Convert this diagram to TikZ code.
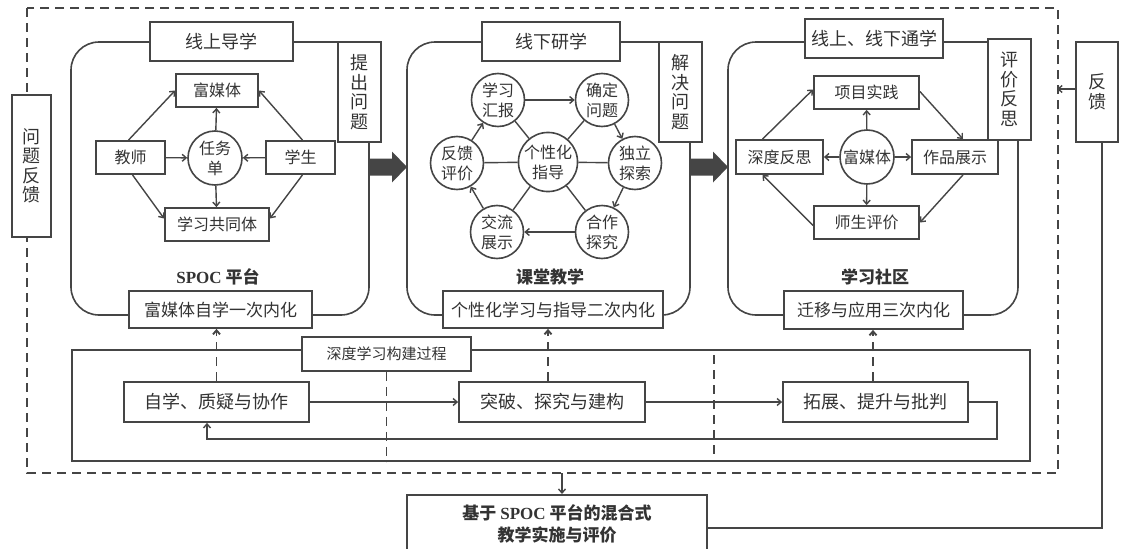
\documentclass[tikz,border=0pt]{standalone}
\usepackage{fontspec}
\setmainfont{Noto Sans CJK SC}
\newfontfamily\lserif{Liberation Serif}
\usetikzlibrary{arrows.meta}
\definecolor{ln}{HTML}{454545}
\definecolor{tx}{HTML}{333333}
\begin{document}
\begin{tikzpicture}[x=1pt,y=-1pt,line join=miter,
  bx/.style={draw=ln,line width=1.8pt,fill=white,inner sep=0pt,text=tx,font=\fontsize{16}{18}\selectfont},
  tbox/.style={bx,font=\fontsize{18}{20}\selectfont},
  vbox/.style={bx,align=center,font=\fontsize{18}{19.5}\selectfont},
  cir/.style={circle,draw=ln,line width=1.6pt,fill=white,inner sep=0pt,minimum size=53pt,text=tx,align=center,font=\fontsize{16}{20}\selectfont},
  panel/.style={draw=ln,line width=1.6pt,rounded corners=28pt,inner sep=0pt},
  arr/.style={draw=ln,line width=1.4pt,-{Straight Barb[length=4pt,width=7pt]}},
  lnk/.style={draw=ln,line width=1.4pt},
  dsh/.style={draw=ln,line width=1.9pt,dash pattern=on 9pt off 6pt},
  lbl/.style={text=tx,font=\fontsize{17}{19}\selectfont\bfseries}]
\clip (0,0) rectangle (1125,549);
\fill[white] (0,0) rectangle (1125,549);

% outer dashed frame
\draw[dsh] (27,8) rectangle (1058,473);
\node[vbox,minimum width=39pt,minimum height=142pt] (wt) at (31.5,166) {问\\题\\反\\馈};
\node[vbox,minimum width=42pt,minimum height=100pt] (fk) at (1097,92) {反\\馈};

% ---------- panel 1 ----------
\node[panel,minimum width=298pt,minimum height=273pt] (p1) at (220,178.5) {};
\node[tbox,minimum width=143pt,minimum height=39pt] (t1) at (221.5,41.5) {线上导学};
\node[vbox,minimum width=43pt,minimum height=100pt] (q1) at (359.5,92) {提\\出\\问\\题};
\node[tbox,font=\fontsize{17}{19}\selectfont,minimum width=183pt,minimum height=37pt] (b1) at (220.5,309.5) {富媒体自学一次内化};
\node[lbl] (l1) at (218,277) {{\lserif\bfseries SPOC} 平台};
\node[bx,minimum width=82pt,minimum height=33pt] (fmt) at (217,90.5) {富媒体};
\node[bx,minimum width=69pt,minimum height=33pt] (js) at (130.5,157.5) {教师};
\node[bx,minimum width=69pt,minimum height=33pt] (xs) at (300.5,157.5) {学生};
\node[cir,minimum size=54pt] (rw) at (215,158) {任务\\单};
\node[bx,minimum width=104pt,minimum height=33pt] (gtt) at (217,224.5) {学习共同体};
\draw[arr] (js) -- (rw);
\draw[arr] (xs) -- (rw);
\draw[arr] (rw) -- (fmt);
\draw[arr] (rw) -- (gtt);
\draw[arr] ([xshift=-2pt]js.north) -- (fmt.west);
\draw[arr] ([xshift=2pt]xs.north) -- (fmt.east);
\draw[arr] ([xshift=2pt]js.south) -- ([yshift=6pt]gtt.west);
\draw[arr] ([xshift=2pt]xs.south) -- ([yshift=6pt]gtt.east);

% ---------- panel 2 ----------
\node[panel,minimum width=283pt,minimum height=273pt] (p2) at (548.5,178.5) {};
\node[tbox,minimum width=138pt,minimum height=39pt] (t2) at (551,41.5) {线下研学};
\node[vbox,minimum width=43pt,minimum height=100pt] (q2) at (680.5,92) {解\\决\\问\\题};
\node[tbox,font=\fontsize{17}{19}\selectfont,minimum width=220pt,minimum height=37pt] (b2) at (553,309.5) {个性化学习与指导二次内化};
\node[lbl] (l2) at (550,277) {课堂教学};
\node[cir,minimum size=54pt] (c0) at (548,162) {个性化\\指导};
\node[cir] (c1) at (498,100) {学习\\汇报};
\node[cir] (c2) at (602,100) {确定\\问题};
\node[cir] (c3) at (635,163) {独立\\探索};
\node[cir] (c4) at (602,232) {合作\\探究};
\node[cir] (c5) at (497,232) {交流\\展示};
\node[cir] (c6) at (457,163) {反馈\\评价};
\foreach \c in {c1,c2,c3,c4,c5,c6} \draw[lnk] (c0) -- (\c);
\draw[arr] (c1) -- (c2);
\draw[arr] (c2) -- (c3);
\draw[arr] (c3) -- (c4);
\draw[arr] (c4) -- (c5);
\draw[arr] (c5) -- (c6);
\draw[arr] (c6) -- (c1);

% ---------- panel 3 ----------
\node[panel,minimum width=290pt,minimum height=273pt] (p3) at (873,178.5) {};
\node[tbox,minimum width=138pt,minimum height=39pt] (t3) at (874,38.5) {线上、线下通学};
\node[vbox,minimum width=43pt,minimum height=101pt] (q3) at (1009.5,89.5) {评\\价\\反\\思};
\node[tbox,font=\fontsize{17}{19}\selectfont,minimum width=179pt,minimum height=38pt] (b3) at (873.5,310) {迁移与应用三次内化};
\node[lbl] (l3) at (875,277) {学习社区};
\node[bx,minimum width=105pt,minimum height=33pt] (xmsj) at (866.5,92.5) {项目实践};
\node[bx,minimum width=87pt,minimum height=34pt] (sdfs) at (779.5,157) {深度反思};
\node[bx,minimum width=86pt,minimum height=34pt] (zpzs) at (955,157) {作品展示};
\node[bx,minimum width=105pt,minimum height=33pt] (sspj) at (866.5,222.5) {师生评价};
\node[cir,minimum size=54pt] (fm3) at (867,157) {富媒体};
\draw[arr] (fm3) -- (xmsj);
\draw[arr] (fm3) -- (zpzs);
\draw[arr] (fm3) -- (sspj);
\draw[arr] (fm3) -- (sdfs);
\draw[arr] ([xshift=-17pt]sdfs.north) -- ([yshift=3pt]xmsj.west);
\draw[arr] ([yshift=1pt]xmsj.east) -- ([xshift=8pt]zpzs.north);
\draw[arr] ([xshift=8pt]zpzs.south) -- ([yshift=0pt]sspj.east);
\draw[arr] ([yshift=-3pt]sspj.west) -- ([xshift=-17pt]sdfs.south);

% thick arrows between panels
\fill[ln] (369,158.5) -- (392,158.5) -- (392,151.5) -- (407,167) -- (392,182.5) -- (392,175.5) -- (369,175.5) -- cycle;
\fill[ln] (690,158.5) -- (713,158.5) -- (713,151.5) -- (728,167) -- (713,182.5) -- (713,175.5) -- (690,175.5) -- cycle;

% ---------- deep learning process ----------
\node[draw=ln,line width=1.8pt,minimum width=958pt,minimum height=111pt,inner sep=0pt] (dp) at (551,405.5) {};
\node[bx,font=\fontsize{15}{17}\selectfont,minimum width=169pt,minimum height=34pt] (sd) at (386.5,354) {深度学习构建过程};
\node[tbox,minimum width=185pt,minimum height=40pt] (s1) at (216.5,402) {自学、质疑与协作};
\node[tbox,minimum width=186pt,minimum height=40pt] (s2) at (552,402) {突破、探究与建构};
\node[tbox,minimum width=185pt,minimum height=40pt] (s3) at (875.5,402) {拓展、提升与批判};
\coordinate (sep) at (714,355);
\draw[dsh] (sd.south) -- (sd.south |- dp.south);
\draw[dsh] (sep) -- (sep |- dp.south);
\draw[arr] (s1) -- (s2);
\draw[arr] (s2) -- (s3);
\coordinate (fbk) at (997,439);
\draw[arr] (s3.east) -| (fbk) -| ([xshift=-9.5pt]s1.south);
\draw[dsh,-{Straight Barb[length=4pt,width=7pt]}] (s1.north) -- (s1.north |- b1.south);
\draw[dsh,-{Straight Barb[length=4pt,width=7pt]}] ([xshift=-4pt]s2.north) -- ([xshift=-4pt]s2.north |- b2.south);
\draw[dsh,-{Straight Barb[length=4pt,width=7pt]}] ([xshift=-2.5pt]s3.north) -- ([xshift=-2.5pt]s3.north |- b3.south);

% ---------- final box ----------
\node[bx,minimum width=300pt,minimum height=76pt,anchor=north] (fb) at (557,494) {};
\node[text=tx,align=center,font=\fontsize{17}{22}\selectfont\bfseries] (fbt) at (557,524) {基于 {\lserif\bfseries SPOC} 平台的混合式\\教学实施与评价};
\coordinate (od) at (562,473);
\draw[arr] (od) -- (od |- fb.north);
\draw[arr] ([yshift=3pt]fk.west) -- ++(-18,0);
\draw[lnk,line width=1.8pt] ([xshift=5pt]fk.south) |- ([yshift=5pt]fb.east);
\end{tikzpicture}
\end{document}
